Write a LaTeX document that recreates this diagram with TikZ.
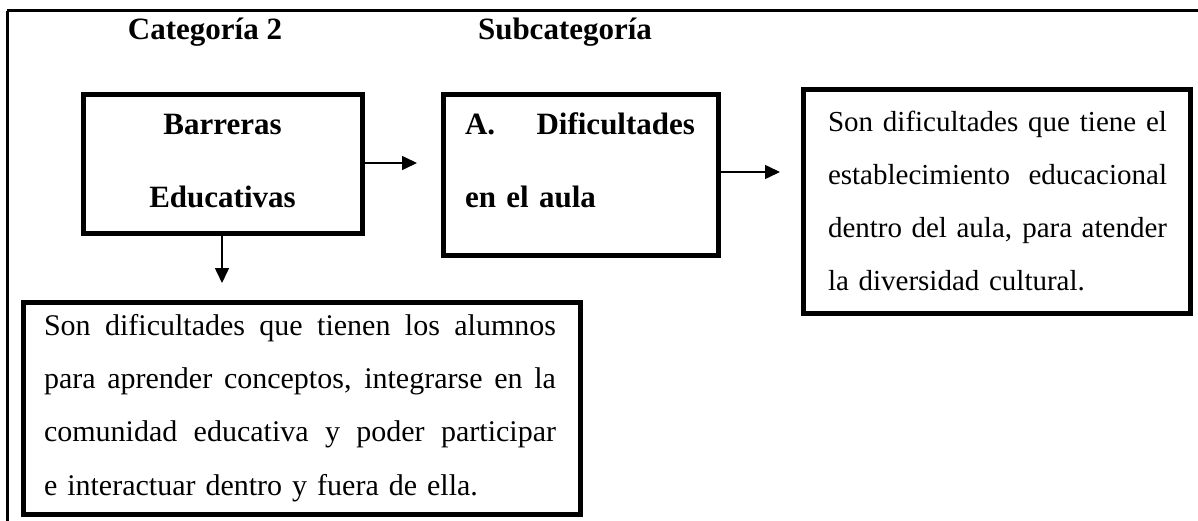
\documentclass[tikz,border=0pt]{standalone}
\usepackage{fontspec}
\setmainfont{Liberation Serif}
\usetikzlibrary{arrows.meta}
\newcommand{\justline}[2]{\leavevmode\hbox to #1{\spaceskip=0.25em plus 1fil\relax #2}}
\tikzset{
  box/.style={draw, line width=5pt, inner sep=0pt, fill=white},
  boldtxt/.style={inner sep=0pt, font=\fontsize{31}{73}\selectfont\bfseries},
  bodytxt/.style={inner sep=0pt, font=\fontsize{29}{53.3}\selectfont, align=left},
  bodytxtb/.style={inner sep=0pt, font=\fontsize{30}{53.3}\selectfont, align=left},
  conn/.style={line width=1.6pt, -{Triangle[length=15pt,width=14pt]}},
  frame/.style={line width=3pt}
}
\begin{document}
\begin{tikzpicture}[x=1pt,y=-1pt]
\useasboundingbox (0,0) rectangle (1198,521);
\begin{scope}
\clip (0,0) rectangle (1198,521);
\draw[frame] (7,11) -- (1230,11);
\draw[frame] (7,11) -- (7,560);
\end{scope}
% titles
\node[boldtxt, anchor=base] (cat) at (205,40) {Categoría 2};
\node[boldtxt, anchor=base] (sub) at (565,40) {Subcategoría};
% boxes
\node[box, minimum width=279pt, minimum height=139pt] (b1) at (222.5,164.5) {};
\node[box, minimum width=275pt, minimum height=160pt] (b2) at (580.5,175) {};
\node[box, minimum width=387pt, minimum height=223pt] (b3) at (996.5,201.5) {};
\node[box, minimum width=557pt, minimum height=212pt] (b4) at (301.5,408) {};
% box texts
\node[boldtxt, align=center] (t1) at (222.5,161) {Barreras\\Educativas};
\node[boldtxt, align=left, text width=230pt] (t2) at (580,160.5) {\justline{230pt}{A. Dificultades}\\en el aula};
\node[bodytxt, text width=339pt] (t3) at (997.5,201) {%
\justline{339pt}{Son dificultades que tiene el}\\
\justline{339pt}{establecimiento educacional}\\
\justline{339pt}{dentro del aula, para atender}\\
la diversidad cultural.};
\node[bodytxtb, text width=512pt] (t4) at (300,408) {%
\justline{512pt}{Son dificultades que tienen los alumnos}\\
\justline{512pt}{para aprender conceptos, integrarse en la}\\
\justline{512pt}{comunidad educativa y poder participar}\\
e interactuar dentro y fuera de ella.};
% connectors
\coordinate (e1) at (417,163);
\coordinate (e2) at (780,172);
\coordinate (e3) at (222,283);
\draw[conn] (b1.east |- e1) -- (e1);
\draw[conn] (b2.east |- e2) -- (e2);
\draw[conn] (e3 |- b1.south) -- (e3);
\end{tikzpicture}
\end{document}
